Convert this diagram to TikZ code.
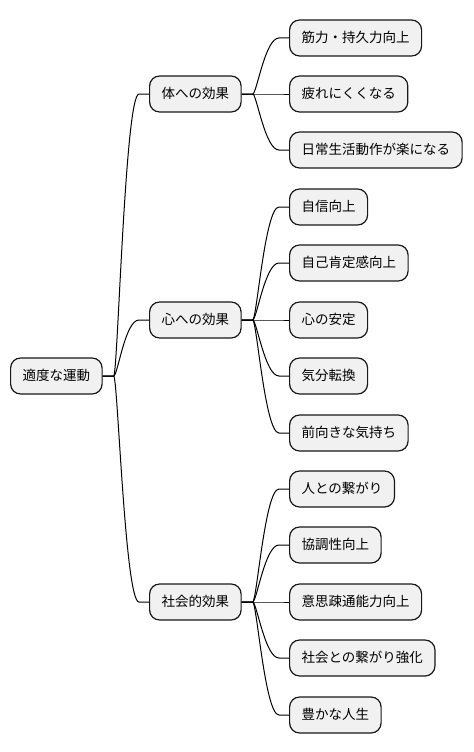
\documentclass[tikz,border=0pt]{standalone}
\usepackage{fontspec}
\newfontfamily\jpfont{Noto Sans CJK JP}
\definecolor{boxfill}{HTML}{F1F1F1}
\definecolor{boxline}{HTML}{181818}
\tikzset{
    topic/.style={draw=boxline,fill=boxfill,line width=1.2bp,rounded corners=10bp,
        anchor=west,minimum height=36bp,inner xsep=12bp,inner ysep=0pt,
        text height=11.5bp,text depth=2bp,
        font=\jpfont\fontsize{13.5bp}{16bp}\selectfont,text=black},
    branch/.style={line width=1bp,black}
}
\newcommand{\branchto}[2]{%
    \draw[branch] (#1.east) -- ++(11,0)
    .. controls +(4,0) and ([xshift=-24bp]#2.west) .. ([xshift=-10bp]#2.west)
    -- (#2.west);}

\begin{document}
\begin{tikzpicture}[x=1bp,y=-1bp]
    \useasboundingbox (0,0) rectangle (474,752);

    \node[topic] (root) at (10,376) {適度な運動};

    \node[topic] (body) at (149,94) {体への効果};
    \node[topic] (mind) at (149,320) {心への効果};
    \node[topic] (social) at (149,602) {社会的効果};

    % 体への効果
    \node[topic] (body1) at (289,38) {筋力・持久力向上};
    \node[topic] (body2) at (289,94) {疲れにくくなる};
    \node[topic] (body3) at (289,150) {日常生活動作が楽になる};

    % 心への効果
    \node[topic] (mind1) at (289,207) {自信向上};
    \node[topic] (mind2) at (289,263) {自己肯定感向上};
    \node[topic] (mind3) at (289,320) {心の安定};
    \node[topic] (mind4) at (289,376) {気分転換};
    \node[topic] (mind5) at (289,433) {前向きな気持ち};

    % 社会的効果
    \node[topic] (social1) at (289,489) {人との繋がり};
    \node[topic] (social2) at (289,545) {協調性向上};
    \node[topic] (social3) at (289,602) {意思疎通能力向上};
    \node[topic] (social4) at (289,658) {社会との繋がり強化};
    \node[topic] (social5) at (289,715) {豊かな人生};

    \branchto{root}{body}
    \branchto{root}{mind}
    \branchto{root}{social}

    \branchto{body}{body1}
    \branchto{body}{body2}
    \branchto{body}{body3}

    \branchto{mind}{mind1}
    \branchto{mind}{mind2}
    \branchto{mind}{mind3}
    \branchto{mind}{mind4}
    \branchto{mind}{mind5}

    \branchto{social}{social1}
    \branchto{social}{social2}
    \branchto{social}{social3}
    \branchto{social}{social4}
    \branchto{social}{social5}
\end{tikzpicture}
\end{document}
